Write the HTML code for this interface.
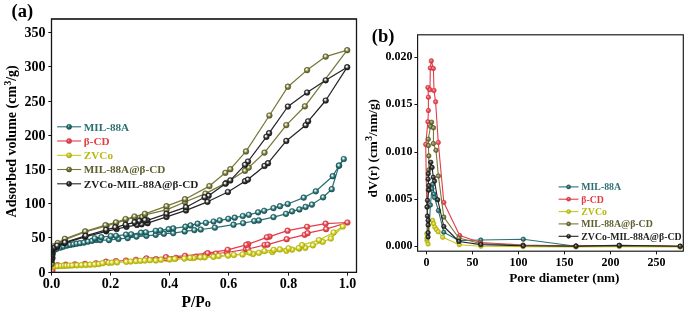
<!DOCTYPE html>
<html><head><meta charset="utf-8"><style>
html,body{margin:0;padding:0;background:#fff;}
body{width:685px;height:312px;overflow:hidden;}
svg{display:block;will-change:transform;font-family:"Liberation Serif",serif;font-weight:bold;}
</style></head><body>
<svg width="685" height="312" viewBox="0 0 685 312">
<rect width="685" height="312" fill="#fff"/>
<defs><radialGradient id="g_teal" cx="0.47" cy="0.45" r="0.58" fx="0.4" fy="0.36"><stop offset="0" stop-color="#ffffff"/><stop offset="0.16" stop-color="#d8eeee"/><stop offset="0.55" stop-color="#2f7d80"/><stop offset="1" stop-color="#174a4c"/></radialGradient>
<radialGradient id="h_teal" cx="0.5" cy="0.5" r="0.55" fx="0.38" fy="0.34"><stop offset="0" stop-color="#accbcc"/><stop offset="0.5" stop-color="#2f7d80"/><stop offset="1" stop-color="#174a4c"/></radialGradient>
<radialGradient id="l_teal" cx="0.5" cy="0.5" r="0.55" fx="0.36" fy="0.32"><stop offset="0" stop-color="#d8eeee"/><stop offset="0.3" stop-color="#2f7d80"/><stop offset="1" stop-color="#174a4c"/></radialGradient>
<radialGradient id="g_red" cx="0.47" cy="0.45" r="0.58" fx="0.4" fy="0.36"><stop offset="0" stop-color="#ffffff"/><stop offset="0.16" stop-color="#ffe0e0"/><stop offset="0.55" stop-color="#ea4a55"/><stop offset="1" stop-color="#cc3440"/></radialGradient>
<radialGradient id="h_red" cx="0.5" cy="0.5" r="0.55" fx="0.38" fy="0.34"><stop offset="0" stop-color="#f7b7bb"/><stop offset="0.5" stop-color="#ea4a55"/><stop offset="1" stop-color="#cc3440"/></radialGradient>
<radialGradient id="l_red" cx="0.5" cy="0.5" r="0.55" fx="0.36" fy="0.32"><stop offset="0" stop-color="#ffe0e0"/><stop offset="0.3" stop-color="#ea4a55"/><stop offset="1" stop-color="#cc3440"/></radialGradient>
<radialGradient id="g_yellow" cx="0.47" cy="0.45" r="0.58" fx="0.4" fy="0.36"><stop offset="0" stop-color="#ffffff"/><stop offset="0.16" stop-color="#fafae0"/><stop offset="0.55" stop-color="#d2d222"/><stop offset="1" stop-color="#a8a80e"/></radialGradient>
<radialGradient id="h_yellow" cx="0.5" cy="0.5" r="0.55" fx="0.38" fy="0.34"><stop offset="0" stop-color="#ededa7"/><stop offset="0.5" stop-color="#d2d222"/><stop offset="1" stop-color="#a8a80e"/></radialGradient>
<radialGradient id="l_yellow" cx="0.5" cy="0.5" r="0.55" fx="0.36" fy="0.32"><stop offset="0" stop-color="#fafae0"/><stop offset="0.3" stop-color="#d2d222"/><stop offset="1" stop-color="#a8a80e"/></radialGradient>
<radialGradient id="g_olive" cx="0.47" cy="0.45" r="0.58" fx="0.4" fy="0.36"><stop offset="0" stop-color="#ffffff"/><stop offset="0.16" stop-color="#f0f0dc"/><stop offset="0.55" stop-color="#808044"/><stop offset="1" stop-color="#50501e"/></radialGradient>
<radialGradient id="h_olive" cx="0.5" cy="0.5" r="0.55" fx="0.38" fy="0.34"><stop offset="0" stop-color="#ccccb4"/><stop offset="0.5" stop-color="#808044"/><stop offset="1" stop-color="#50501e"/></radialGradient>
<radialGradient id="l_olive" cx="0.5" cy="0.5" r="0.55" fx="0.36" fy="0.32"><stop offset="0" stop-color="#f0f0dc"/><stop offset="0.3" stop-color="#808044"/><stop offset="1" stop-color="#50501e"/></radialGradient>
<radialGradient id="g_black" cx="0.47" cy="0.45" r="0.58" fx="0.4" fy="0.36"><stop offset="0" stop-color="#ffffff"/><stop offset="0.16" stop-color="#f4f4f4"/><stop offset="0.55" stop-color="#383838"/><stop offset="1" stop-color="#151515"/></radialGradient>
<radialGradient id="h_black" cx="0.5" cy="0.5" r="0.55" fx="0.38" fy="0.34"><stop offset="0" stop-color="#afafaf"/><stop offset="0.5" stop-color="#383838"/><stop offset="1" stop-color="#151515"/></radialGradient>
<radialGradient id="l_black" cx="0.5" cy="0.5" r="0.55" fx="0.36" fy="0.32"><stop offset="0" stop-color="#f4f4f4"/><stop offset="0.3" stop-color="#383838"/><stop offset="1" stop-color="#151515"/></radialGradient><clipPath id="clipA"><rect x="51.5" y="19" width="304.7" height="253.2"/></clipPath></defs>
<rect x="51.5" y="19.0" width="305.0" height="253.4" fill="none" stroke="#151515" stroke-width="1.15"/>
<line x1="48.3" y1="272.50" x2="51.5" y2="272.50" stroke="#151515" stroke-width="1.05"/>
<text x="45.5" y="276.60" font-size="14" text-anchor="end">0</text>
<line x1="48.3" y1="237.50" x2="51.5" y2="237.50" stroke="#151515" stroke-width="1.05"/>
<text x="45.5" y="241.60" font-size="14" text-anchor="end">50</text>
<line x1="48.3" y1="203.50" x2="51.5" y2="203.50" stroke="#151515" stroke-width="1.05"/>
<text x="45.5" y="207.60" font-size="14" text-anchor="end">100</text>
<line x1="48.3" y1="169.50" x2="51.5" y2="169.50" stroke="#151515" stroke-width="1.05"/>
<text x="45.5" y="173.60" font-size="14" text-anchor="end">150</text>
<line x1="48.3" y1="135.50" x2="51.5" y2="135.50" stroke="#151515" stroke-width="1.05"/>
<text x="45.5" y="139.60" font-size="14" text-anchor="end">200</text>
<line x1="48.3" y1="101.50" x2="51.5" y2="101.50" stroke="#151515" stroke-width="1.05"/>
<text x="45.5" y="105.60" font-size="14" text-anchor="end">250</text>
<line x1="48.3" y1="66.50" x2="51.5" y2="66.50" stroke="#151515" stroke-width="1.05"/>
<text x="45.5" y="70.60" font-size="14" text-anchor="end">300</text>
<line x1="48.3" y1="32.50" x2="51.5" y2="32.50" stroke="#151515" stroke-width="1.05"/>
<text x="45.5" y="36.60" font-size="14" text-anchor="end">350</text>
<line x1="51.50" y1="272.4" x2="51.50" y2="275.6" stroke="#151515" stroke-width="1.05"/>
<text x="51.50" y="288.2" font-size="14" text-anchor="middle">0.0</text>
<line x1="110.50" y1="272.4" x2="110.50" y2="275.6" stroke="#151515" stroke-width="1.05"/>
<text x="110.50" y="288.2" font-size="14" text-anchor="middle">0.2</text>
<line x1="169.50" y1="272.4" x2="169.50" y2="275.6" stroke="#151515" stroke-width="1.05"/>
<text x="169.50" y="288.2" font-size="14" text-anchor="middle">0.4</text>
<line x1="228.50" y1="272.4" x2="228.50" y2="275.6" stroke="#151515" stroke-width="1.05"/>
<text x="228.50" y="288.2" font-size="14" text-anchor="middle">0.6</text>
<line x1="288.50" y1="272.4" x2="288.50" y2="275.6" stroke="#151515" stroke-width="1.05"/>
<text x="288.50" y="288.2" font-size="14" text-anchor="middle">0.8</text>
<line x1="347.50" y1="272.4" x2="347.50" y2="275.6" stroke="#151515" stroke-width="1.05"/>
<text x="347.50" y="288.2" font-size="14" text-anchor="middle">1.0</text>
<text transform="translate(181.6,306.9) scale(1,1.09)" font-size="15.5">P/P<tspan font-size="12.3" transform="">o</tspan></text>
<text transform="translate(16,141.3) rotate(-90)" font-size="14" text-anchor="middle">Adsorbed volume (cm<tspan font-size="9.6" dy="-5" dx="0.4">3</tspan><tspan dy="5">/g)</tspan></text>
<text x="11.5" y="17.3" font-size="18.5">(a)</text>
<g clip-path="url(#clipA)">
<polyline points="52.3,264.0 52.5,258.0 52.7,254.0 53.0,251.5 54.5,249.8 56.7,248.7 60.5,247.6 63.5,246.6 67.0,245.6 70.2,244.9 73.4,244.3 76.6,243.7 80.0,243.2 84.0,242.6 88.0,241.6 92.0,240.8 96.2,239.9 100.3,240.1 109.0,240.1 118.4,238.9 127.7,238.1 136.5,236.6 146.4,235.8 155.7,234.8 163.9,233.7 173.2,233.1 184.7,231.4 194.4,230.1 200.8,229.5 214.9,227.6 233.5,224.7 243.1,223.1 254.2,221.0 258.8,220.4 273.5,217.1 286.0,213.8 292.1,211.3 299.4,209.4 305.6,206.9 311.9,204.6 323.1,197.3 331.7,189.2 339.0,165.6 343.8,159.0" fill="none" stroke="#2b7174" stroke-width="1.25" stroke-linejoin="round"/>
<polyline points="343.8,159.0 339.0,165.6 332.7,176.2 315.8,191.3 303.7,197.6 287.7,204.0 280.0,206.2 273.5,208.1 264.2,210.8 258.1,212.3 248.8,214.8 242.8,216.0 234.7,217.7 228.3,218.8 219.7,220.3 213.6,221.5 205.9,222.8 197.6,223.7 190.5,225.4 185.4,226.7 173.2,228.4 168.6,229.2 160.4,230.4 155.7,230.8 145.8,232.3 141.1,232.7 131.2,234.3 126.0,234.6 116.0,235.8 110.8,236.0 101.4,237.2 94.7,238.3" fill="none" stroke="#2b7174" stroke-width="1.25" stroke-linejoin="round"/>
<circle cx="52.3" cy="264.0" r="2.85" fill="url(#g_teal)" stroke="#174a4c" stroke-width="0.5"/>
<circle cx="52.5" cy="258.0" r="2.85" fill="url(#g_teal)" stroke="#174a4c" stroke-width="0.5"/>
<circle cx="52.7" cy="254.0" r="2.85" fill="url(#g_teal)" stroke="#174a4c" stroke-width="0.5"/>
<circle cx="53.0" cy="251.5" r="2.85" fill="url(#g_teal)" stroke="#174a4c" stroke-width="0.5"/>
<circle cx="54.5" cy="249.8" r="2.85" fill="url(#g_teal)" stroke="#174a4c" stroke-width="0.5"/>
<circle cx="56.7" cy="248.7" r="2.85" fill="url(#g_teal)" stroke="#174a4c" stroke-width="0.5"/>
<circle cx="60.5" cy="247.6" r="2.85" fill="url(#g_teal)" stroke="#174a4c" stroke-width="0.5"/>
<circle cx="63.5" cy="246.6" r="2.85" fill="url(#g_teal)" stroke="#174a4c" stroke-width="0.5"/>
<circle cx="67.0" cy="245.6" r="2.85" fill="url(#g_teal)" stroke="#174a4c" stroke-width="0.5"/>
<circle cx="70.2" cy="244.9" r="2.85" fill="url(#g_teal)" stroke="#174a4c" stroke-width="0.5"/>
<circle cx="73.4" cy="244.3" r="2.85" fill="url(#g_teal)" stroke="#174a4c" stroke-width="0.5"/>
<circle cx="76.6" cy="243.7" r="2.85" fill="url(#g_teal)" stroke="#174a4c" stroke-width="0.5"/>
<circle cx="80.0" cy="243.2" r="2.85" fill="url(#g_teal)" stroke="#174a4c" stroke-width="0.5"/>
<circle cx="84.0" cy="242.6" r="2.85" fill="url(#g_teal)" stroke="#174a4c" stroke-width="0.5"/>
<circle cx="88.0" cy="241.6" r="2.85" fill="url(#g_teal)" stroke="#174a4c" stroke-width="0.5"/>
<circle cx="92.0" cy="240.8" r="2.85" fill="url(#g_teal)" stroke="#174a4c" stroke-width="0.5"/>
<circle cx="96.2" cy="239.9" r="2.85" fill="url(#g_teal)" stroke="#174a4c" stroke-width="0.5"/>
<circle cx="100.3" cy="240.1" r="2.85" fill="url(#g_teal)" stroke="#174a4c" stroke-width="0.5"/>
<circle cx="109.0" cy="240.1" r="2.85" fill="url(#g_teal)" stroke="#174a4c" stroke-width="0.5"/>
<circle cx="118.4" cy="238.9" r="2.85" fill="url(#g_teal)" stroke="#174a4c" stroke-width="0.5"/>
<circle cx="127.7" cy="238.1" r="2.85" fill="url(#g_teal)" stroke="#174a4c" stroke-width="0.5"/>
<circle cx="136.5" cy="236.6" r="2.85" fill="url(#g_teal)" stroke="#174a4c" stroke-width="0.5"/>
<circle cx="146.4" cy="235.8" r="2.85" fill="url(#g_teal)" stroke="#174a4c" stroke-width="0.5"/>
<circle cx="155.7" cy="234.8" r="2.85" fill="url(#g_teal)" stroke="#174a4c" stroke-width="0.5"/>
<circle cx="163.9" cy="233.7" r="2.85" fill="url(#g_teal)" stroke="#174a4c" stroke-width="0.5"/>
<circle cx="173.2" cy="233.1" r="2.85" fill="url(#g_teal)" stroke="#174a4c" stroke-width="0.5"/>
<circle cx="184.7" cy="231.4" r="2.85" fill="url(#g_teal)" stroke="#174a4c" stroke-width="0.5"/>
<circle cx="194.4" cy="230.1" r="2.85" fill="url(#g_teal)" stroke="#174a4c" stroke-width="0.5"/>
<circle cx="200.8" cy="229.5" r="2.85" fill="url(#g_teal)" stroke="#174a4c" stroke-width="0.5"/>
<circle cx="214.9" cy="227.6" r="2.85" fill="url(#g_teal)" stroke="#174a4c" stroke-width="0.5"/>
<circle cx="233.5" cy="224.7" r="2.85" fill="url(#g_teal)" stroke="#174a4c" stroke-width="0.5"/>
<circle cx="243.1" cy="223.1" r="2.85" fill="url(#g_teal)" stroke="#174a4c" stroke-width="0.5"/>
<circle cx="254.2" cy="221.0" r="2.85" fill="url(#g_teal)" stroke="#174a4c" stroke-width="0.5"/>
<circle cx="258.8" cy="220.4" r="2.85" fill="url(#g_teal)" stroke="#174a4c" stroke-width="0.5"/>
<circle cx="273.5" cy="217.1" r="2.85" fill="url(#g_teal)" stroke="#174a4c" stroke-width="0.5"/>
<circle cx="286.0" cy="213.8" r="2.85" fill="url(#g_teal)" stroke="#174a4c" stroke-width="0.5"/>
<circle cx="292.1" cy="211.3" r="2.85" fill="url(#g_teal)" stroke="#174a4c" stroke-width="0.5"/>
<circle cx="299.4" cy="209.4" r="2.85" fill="url(#g_teal)" stroke="#174a4c" stroke-width="0.5"/>
<circle cx="305.6" cy="206.9" r="2.85" fill="url(#g_teal)" stroke="#174a4c" stroke-width="0.5"/>
<circle cx="311.9" cy="204.6" r="2.85" fill="url(#g_teal)" stroke="#174a4c" stroke-width="0.5"/>
<circle cx="323.1" cy="197.3" r="2.85" fill="url(#g_teal)" stroke="#174a4c" stroke-width="0.5"/>
<circle cx="331.7" cy="189.2" r="2.85" fill="url(#g_teal)" stroke="#174a4c" stroke-width="0.5"/>
<circle cx="339.0" cy="165.6" r="2.85" fill="url(#g_teal)" stroke="#174a4c" stroke-width="0.5"/>
<circle cx="343.8" cy="159.0" r="2.85" fill="url(#g_teal)" stroke="#174a4c" stroke-width="0.5"/>
<circle cx="339.0" cy="165.6" r="2.85" fill="url(#g_teal)" stroke="#174a4c" stroke-width="0.5"/>
<circle cx="332.7" cy="176.2" r="2.85" fill="url(#g_teal)" stroke="#174a4c" stroke-width="0.5"/>
<circle cx="315.8" cy="191.3" r="2.85" fill="url(#g_teal)" stroke="#174a4c" stroke-width="0.5"/>
<circle cx="303.7" cy="197.6" r="2.85" fill="url(#g_teal)" stroke="#174a4c" stroke-width="0.5"/>
<circle cx="287.7" cy="204.0" r="2.85" fill="url(#g_teal)" stroke="#174a4c" stroke-width="0.5"/>
<circle cx="280.0" cy="206.2" r="2.85" fill="url(#g_teal)" stroke="#174a4c" stroke-width="0.5"/>
<circle cx="273.5" cy="208.1" r="2.85" fill="url(#g_teal)" stroke="#174a4c" stroke-width="0.5"/>
<circle cx="264.2" cy="210.8" r="2.85" fill="url(#g_teal)" stroke="#174a4c" stroke-width="0.5"/>
<circle cx="258.1" cy="212.3" r="2.85" fill="url(#g_teal)" stroke="#174a4c" stroke-width="0.5"/>
<circle cx="248.8" cy="214.8" r="2.85" fill="url(#g_teal)" stroke="#174a4c" stroke-width="0.5"/>
<circle cx="242.8" cy="216.0" r="2.85" fill="url(#g_teal)" stroke="#174a4c" stroke-width="0.5"/>
<circle cx="234.7" cy="217.7" r="2.85" fill="url(#g_teal)" stroke="#174a4c" stroke-width="0.5"/>
<circle cx="228.3" cy="218.8" r="2.85" fill="url(#g_teal)" stroke="#174a4c" stroke-width="0.5"/>
<circle cx="219.7" cy="220.3" r="2.85" fill="url(#g_teal)" stroke="#174a4c" stroke-width="0.5"/>
<circle cx="213.6" cy="221.5" r="2.85" fill="url(#g_teal)" stroke="#174a4c" stroke-width="0.5"/>
<circle cx="205.9" cy="222.8" r="2.85" fill="url(#g_teal)" stroke="#174a4c" stroke-width="0.5"/>
<circle cx="197.6" cy="223.7" r="2.85" fill="url(#g_teal)" stroke="#174a4c" stroke-width="0.5"/>
<circle cx="190.5" cy="225.4" r="2.85" fill="url(#g_teal)" stroke="#174a4c" stroke-width="0.5"/>
<circle cx="185.4" cy="226.7" r="2.85" fill="url(#g_teal)" stroke="#174a4c" stroke-width="0.5"/>
<circle cx="173.2" cy="228.4" r="2.85" fill="url(#g_teal)" stroke="#174a4c" stroke-width="0.5"/>
<circle cx="168.6" cy="229.2" r="2.85" fill="url(#g_teal)" stroke="#174a4c" stroke-width="0.5"/>
<circle cx="160.4" cy="230.4" r="2.85" fill="url(#g_teal)" stroke="#174a4c" stroke-width="0.5"/>
<circle cx="155.7" cy="230.8" r="2.85" fill="url(#g_teal)" stroke="#174a4c" stroke-width="0.5"/>
<circle cx="145.8" cy="232.3" r="2.85" fill="url(#g_teal)" stroke="#174a4c" stroke-width="0.5"/>
<circle cx="141.1" cy="232.7" r="2.85" fill="url(#g_teal)" stroke="#174a4c" stroke-width="0.5"/>
<circle cx="131.2" cy="234.3" r="2.85" fill="url(#g_teal)" stroke="#174a4c" stroke-width="0.5"/>
<circle cx="126.0" cy="234.6" r="2.85" fill="url(#g_teal)" stroke="#174a4c" stroke-width="0.5"/>
<circle cx="116.0" cy="235.8" r="2.85" fill="url(#g_teal)" stroke="#174a4c" stroke-width="0.5"/>
<circle cx="110.8" cy="236.0" r="2.85" fill="url(#g_teal)" stroke="#174a4c" stroke-width="0.5"/>
<circle cx="101.4" cy="237.2" r="2.85" fill="url(#g_teal)" stroke="#174a4c" stroke-width="0.5"/>
<circle cx="94.7" cy="238.3" r="2.85" fill="url(#g_teal)" stroke="#174a4c" stroke-width="0.5"/>
<polyline points="52.4,270.6 53.2,265.5 57.6,265.2 65.7,264.7 75.0,264.4 85.0,263.9 96.0,263.3 106.0,261.7 116.0,261.1 126.0,260.5 136.0,259.8 146.0,259.2 156.0,259.1 166.0,258.4 176.0,257.8 186.0,257.2 196.0,256.6 206.1,254.3 216.0,253.5 226.9,252.5 245.9,249.4 248.0,249.0 264.5,245.0 267.6,244.6 286.7,239.2 304.7,234.8 307.6,233.2 326.1,229.2 347.4,222.5" fill="none" stroke="#e53c48" stroke-width="1.25" stroke-linejoin="round"/>
<polyline points="347.4,222.5 325.6,223.6 307.1,226.8 287.6,230.7 269.5,236.6 266.8,237.3 248.2,244.2 246.2,244.8 227.7,249.8 207.7,253.2 185.0,255.8 166.0,257.1 146.4,258.4" fill="none" stroke="#e53c48" stroke-width="1.25" stroke-linejoin="round"/>
<circle cx="52.4" cy="270.6" r="2.85" fill="url(#g_red)" stroke="#cc3440" stroke-width="0.5"/>
<circle cx="53.2" cy="265.5" r="2.85" fill="url(#g_red)" stroke="#cc3440" stroke-width="0.5"/>
<circle cx="57.6" cy="265.2" r="2.85" fill="url(#g_red)" stroke="#cc3440" stroke-width="0.5"/>
<circle cx="65.7" cy="264.7" r="2.85" fill="url(#g_red)" stroke="#cc3440" stroke-width="0.5"/>
<circle cx="75.0" cy="264.4" r="2.85" fill="url(#g_red)" stroke="#cc3440" stroke-width="0.5"/>
<circle cx="85.0" cy="263.9" r="2.85" fill="url(#g_red)" stroke="#cc3440" stroke-width="0.5"/>
<circle cx="96.0" cy="263.3" r="2.85" fill="url(#g_red)" stroke="#cc3440" stroke-width="0.5"/>
<circle cx="106.0" cy="261.7" r="2.85" fill="url(#g_red)" stroke="#cc3440" stroke-width="0.5"/>
<circle cx="116.0" cy="261.1" r="2.85" fill="url(#g_red)" stroke="#cc3440" stroke-width="0.5"/>
<circle cx="126.0" cy="260.5" r="2.85" fill="url(#g_red)" stroke="#cc3440" stroke-width="0.5"/>
<circle cx="136.0" cy="259.8" r="2.85" fill="url(#g_red)" stroke="#cc3440" stroke-width="0.5"/>
<circle cx="146.0" cy="259.2" r="2.85" fill="url(#g_red)" stroke="#cc3440" stroke-width="0.5"/>
<circle cx="156.0" cy="259.1" r="2.85" fill="url(#g_red)" stroke="#cc3440" stroke-width="0.5"/>
<circle cx="166.0" cy="258.4" r="2.85" fill="url(#g_red)" stroke="#cc3440" stroke-width="0.5"/>
<circle cx="176.0" cy="257.8" r="2.85" fill="url(#g_red)" stroke="#cc3440" stroke-width="0.5"/>
<circle cx="186.0" cy="257.2" r="2.85" fill="url(#g_red)" stroke="#cc3440" stroke-width="0.5"/>
<circle cx="196.0" cy="256.6" r="2.85" fill="url(#g_red)" stroke="#cc3440" stroke-width="0.5"/>
<circle cx="206.1" cy="254.3" r="2.85" fill="url(#g_red)" stroke="#cc3440" stroke-width="0.5"/>
<circle cx="216.0" cy="253.5" r="2.85" fill="url(#g_red)" stroke="#cc3440" stroke-width="0.5"/>
<circle cx="226.9" cy="252.5" r="2.85" fill="url(#g_red)" stroke="#cc3440" stroke-width="0.5"/>
<circle cx="245.9" cy="249.4" r="2.85" fill="url(#g_red)" stroke="#cc3440" stroke-width="0.5"/>
<circle cx="248.0" cy="249.0" r="2.85" fill="url(#g_red)" stroke="#cc3440" stroke-width="0.5"/>
<circle cx="264.5" cy="245.0" r="2.85" fill="url(#g_red)" stroke="#cc3440" stroke-width="0.5"/>
<circle cx="267.6" cy="244.6" r="2.85" fill="url(#g_red)" stroke="#cc3440" stroke-width="0.5"/>
<circle cx="286.7" cy="239.2" r="2.85" fill="url(#g_red)" stroke="#cc3440" stroke-width="0.5"/>
<circle cx="304.7" cy="234.8" r="2.85" fill="url(#g_red)" stroke="#cc3440" stroke-width="0.5"/>
<circle cx="307.6" cy="233.2" r="2.85" fill="url(#g_red)" stroke="#cc3440" stroke-width="0.5"/>
<circle cx="326.1" cy="229.2" r="2.85" fill="url(#g_red)" stroke="#cc3440" stroke-width="0.5"/>
<circle cx="347.4" cy="222.5" r="2.85" fill="url(#g_red)" stroke="#cc3440" stroke-width="0.5"/>
<circle cx="325.6" cy="223.6" r="2.85" fill="url(#g_red)" stroke="#cc3440" stroke-width="0.5"/>
<circle cx="307.1" cy="226.8" r="2.85" fill="url(#g_red)" stroke="#cc3440" stroke-width="0.5"/>
<circle cx="287.6" cy="230.7" r="2.85" fill="url(#g_red)" stroke="#cc3440" stroke-width="0.5"/>
<circle cx="269.5" cy="236.6" r="2.85" fill="url(#g_red)" stroke="#cc3440" stroke-width="0.5"/>
<circle cx="266.8" cy="237.3" r="2.85" fill="url(#g_red)" stroke="#cc3440" stroke-width="0.5"/>
<circle cx="248.2" cy="244.2" r="2.85" fill="url(#g_red)" stroke="#cc3440" stroke-width="0.5"/>
<circle cx="246.2" cy="244.8" r="2.85" fill="url(#g_red)" stroke="#cc3440" stroke-width="0.5"/>
<circle cx="227.7" cy="249.8" r="2.85" fill="url(#g_red)" stroke="#cc3440" stroke-width="0.5"/>
<circle cx="207.7" cy="253.2" r="2.85" fill="url(#g_red)" stroke="#cc3440" stroke-width="0.5"/>
<circle cx="185.0" cy="255.8" r="2.85" fill="url(#g_red)" stroke="#cc3440" stroke-width="0.5"/>
<circle cx="166.0" cy="257.1" r="2.85" fill="url(#g_red)" stroke="#cc3440" stroke-width="0.5"/>
<circle cx="146.4" cy="258.4" r="2.85" fill="url(#g_red)" stroke="#cc3440" stroke-width="0.5"/>
<polyline points="52.3,266.6 54.6,266.4 57.6,266.2 61.0,266.0 63.9,265.8 66.4,265.7 69.3,265.6 72.3,265.5 77.0,265.3 81.4,265.1 85.8,264.9 90.1,264.7 94.5,264.4 98.9,264.1 102.6,263.2 108.7,262.8 111.9,262.6 117.1,262.3 126.3,261.8 130.7,261.5 136.0,261.1 140.4,260.8 144.8,260.5 155.8,260.4 169.7,259.4 184.3,258.6 193.8,258.0 204.7,257.3 213.5,256.8 228.1,255.6 242.6,254.4 253.1,254.0 258.8,252.9 272.4,252.0 286.4,250.7 292.1,249.6 299.3,248.6 305.3,247.8 312.9,245.3 322.7,241.8 330.8,238.5 342.8,226.5" fill="none" stroke="#c8c81c" stroke-width="1.25" stroke-linejoin="round"/>
<polyline points="342.8,226.5 333.6,232.5 318.9,240.1 302.0,245.2 298.7,248.1 288.6,248.3 279.8,249.4 273.7,249.9 264.5,251.1 249.6,252.6 233.9,255.0 218.6,256.0 200.4,257.3 190.1,257.9 174.8,258.9 161.0,259.7 150.0,260.2" fill="none" stroke="#c8c81c" stroke-width="1.25" stroke-linejoin="round"/>
<circle cx="52.3" cy="266.6" r="2.85" fill="url(#g_yellow)" stroke="#a8a80e" stroke-width="0.5"/>
<circle cx="54.6" cy="266.4" r="2.85" fill="url(#g_yellow)" stroke="#a8a80e" stroke-width="0.5"/>
<circle cx="57.6" cy="266.2" r="2.85" fill="url(#g_yellow)" stroke="#a8a80e" stroke-width="0.5"/>
<circle cx="61.0" cy="266.0" r="2.85" fill="url(#g_yellow)" stroke="#a8a80e" stroke-width="0.5"/>
<circle cx="63.9" cy="265.8" r="2.85" fill="url(#g_yellow)" stroke="#a8a80e" stroke-width="0.5"/>
<circle cx="66.4" cy="265.7" r="2.85" fill="url(#g_yellow)" stroke="#a8a80e" stroke-width="0.5"/>
<circle cx="69.3" cy="265.6" r="2.85" fill="url(#g_yellow)" stroke="#a8a80e" stroke-width="0.5"/>
<circle cx="72.3" cy="265.5" r="2.85" fill="url(#g_yellow)" stroke="#a8a80e" stroke-width="0.5"/>
<circle cx="77.0" cy="265.3" r="2.85" fill="url(#g_yellow)" stroke="#a8a80e" stroke-width="0.5"/>
<circle cx="81.4" cy="265.1" r="2.85" fill="url(#g_yellow)" stroke="#a8a80e" stroke-width="0.5"/>
<circle cx="85.8" cy="264.9" r="2.85" fill="url(#g_yellow)" stroke="#a8a80e" stroke-width="0.5"/>
<circle cx="90.1" cy="264.7" r="2.85" fill="url(#g_yellow)" stroke="#a8a80e" stroke-width="0.5"/>
<circle cx="94.5" cy="264.4" r="2.85" fill="url(#g_yellow)" stroke="#a8a80e" stroke-width="0.5"/>
<circle cx="98.9" cy="264.1" r="2.85" fill="url(#g_yellow)" stroke="#a8a80e" stroke-width="0.5"/>
<circle cx="102.6" cy="263.2" r="2.85" fill="url(#g_yellow)" stroke="#a8a80e" stroke-width="0.5"/>
<circle cx="108.7" cy="262.8" r="2.85" fill="url(#g_yellow)" stroke="#a8a80e" stroke-width="0.5"/>
<circle cx="111.9" cy="262.6" r="2.85" fill="url(#g_yellow)" stroke="#a8a80e" stroke-width="0.5"/>
<circle cx="117.1" cy="262.3" r="2.85" fill="url(#g_yellow)" stroke="#a8a80e" stroke-width="0.5"/>
<circle cx="126.3" cy="261.8" r="2.85" fill="url(#g_yellow)" stroke="#a8a80e" stroke-width="0.5"/>
<circle cx="130.7" cy="261.5" r="2.85" fill="url(#g_yellow)" stroke="#a8a80e" stroke-width="0.5"/>
<circle cx="136.0" cy="261.1" r="2.85" fill="url(#g_yellow)" stroke="#a8a80e" stroke-width="0.5"/>
<circle cx="140.4" cy="260.8" r="2.85" fill="url(#g_yellow)" stroke="#a8a80e" stroke-width="0.5"/>
<circle cx="144.8" cy="260.5" r="2.85" fill="url(#g_yellow)" stroke="#a8a80e" stroke-width="0.5"/>
<circle cx="155.8" cy="260.4" r="2.85" fill="url(#g_yellow)" stroke="#a8a80e" stroke-width="0.5"/>
<circle cx="169.7" cy="259.4" r="2.85" fill="url(#g_yellow)" stroke="#a8a80e" stroke-width="0.5"/>
<circle cx="184.3" cy="258.6" r="2.85" fill="url(#g_yellow)" stroke="#a8a80e" stroke-width="0.5"/>
<circle cx="193.8" cy="258.0" r="2.85" fill="url(#g_yellow)" stroke="#a8a80e" stroke-width="0.5"/>
<circle cx="204.7" cy="257.3" r="2.85" fill="url(#g_yellow)" stroke="#a8a80e" stroke-width="0.5"/>
<circle cx="213.5" cy="256.8" r="2.85" fill="url(#g_yellow)" stroke="#a8a80e" stroke-width="0.5"/>
<circle cx="228.1" cy="255.6" r="2.85" fill="url(#g_yellow)" stroke="#a8a80e" stroke-width="0.5"/>
<circle cx="242.6" cy="254.4" r="2.85" fill="url(#g_yellow)" stroke="#a8a80e" stroke-width="0.5"/>
<circle cx="253.1" cy="254.0" r="2.85" fill="url(#g_yellow)" stroke="#a8a80e" stroke-width="0.5"/>
<circle cx="258.8" cy="252.9" r="2.85" fill="url(#g_yellow)" stroke="#a8a80e" stroke-width="0.5"/>
<circle cx="272.4" cy="252.0" r="2.85" fill="url(#g_yellow)" stroke="#a8a80e" stroke-width="0.5"/>
<circle cx="286.4" cy="250.7" r="2.85" fill="url(#g_yellow)" stroke="#a8a80e" stroke-width="0.5"/>
<circle cx="292.1" cy="249.6" r="2.85" fill="url(#g_yellow)" stroke="#a8a80e" stroke-width="0.5"/>
<circle cx="299.3" cy="248.6" r="2.85" fill="url(#g_yellow)" stroke="#a8a80e" stroke-width="0.5"/>
<circle cx="305.3" cy="247.8" r="2.85" fill="url(#g_yellow)" stroke="#a8a80e" stroke-width="0.5"/>
<circle cx="312.9" cy="245.3" r="2.85" fill="url(#g_yellow)" stroke="#a8a80e" stroke-width="0.5"/>
<circle cx="322.7" cy="241.8" r="2.85" fill="url(#g_yellow)" stroke="#a8a80e" stroke-width="0.5"/>
<circle cx="330.8" cy="238.5" r="2.85" fill="url(#g_yellow)" stroke="#a8a80e" stroke-width="0.5"/>
<circle cx="342.8" cy="226.5" r="2.85" fill="url(#g_yellow)" stroke="#a8a80e" stroke-width="0.5"/>
<circle cx="333.6" cy="232.5" r="2.85" fill="url(#g_yellow)" stroke="#a8a80e" stroke-width="0.5"/>
<circle cx="318.9" cy="240.1" r="2.85" fill="url(#g_yellow)" stroke="#a8a80e" stroke-width="0.5"/>
<circle cx="302.0" cy="245.2" r="2.85" fill="url(#g_yellow)" stroke="#a8a80e" stroke-width="0.5"/>
<circle cx="298.7" cy="248.1" r="2.85" fill="url(#g_yellow)" stroke="#a8a80e" stroke-width="0.5"/>
<circle cx="288.6" cy="248.3" r="2.85" fill="url(#g_yellow)" stroke="#a8a80e" stroke-width="0.5"/>
<circle cx="279.8" cy="249.4" r="2.85" fill="url(#g_yellow)" stroke="#a8a80e" stroke-width="0.5"/>
<circle cx="273.7" cy="249.9" r="2.85" fill="url(#g_yellow)" stroke="#a8a80e" stroke-width="0.5"/>
<circle cx="264.5" cy="251.1" r="2.85" fill="url(#g_yellow)" stroke="#a8a80e" stroke-width="0.5"/>
<circle cx="249.6" cy="252.6" r="2.85" fill="url(#g_yellow)" stroke="#a8a80e" stroke-width="0.5"/>
<circle cx="233.9" cy="255.0" r="2.85" fill="url(#g_yellow)" stroke="#a8a80e" stroke-width="0.5"/>
<circle cx="218.6" cy="256.0" r="2.85" fill="url(#g_yellow)" stroke="#a8a80e" stroke-width="0.5"/>
<circle cx="200.4" cy="257.3" r="2.85" fill="url(#g_yellow)" stroke="#a8a80e" stroke-width="0.5"/>
<circle cx="190.1" cy="257.9" r="2.85" fill="url(#g_yellow)" stroke="#a8a80e" stroke-width="0.5"/>
<circle cx="174.8" cy="258.9" r="2.85" fill="url(#g_yellow)" stroke="#a8a80e" stroke-width="0.5"/>
<circle cx="161.0" cy="259.7" r="2.85" fill="url(#g_yellow)" stroke="#a8a80e" stroke-width="0.5"/>
<circle cx="150.0" cy="260.2" r="2.85" fill="url(#g_yellow)" stroke="#a8a80e" stroke-width="0.5"/>
<polyline points="51.8,264.0 52.0,258.0 52.5,252.0 53.6,246.3 57.7,243.8 64.9,239.6 85.2,231.8 106.5,226.0 116.0,223.2 125.6,219.8 134.5,217.5 142.3,216.9 144.9,214.8 166.5,209.8 185.0,202.0 205.4,193.6 226.2,182.9 245.0,170.8 248.7,167.6 264.5,152.6 286.3,125.1 304.9,106.3 347.2,50.2" fill="none" stroke="#78783a" stroke-width="1.25" stroke-linejoin="round"/>
<polyline points="347.2,50.2 325.7,56.6 307.1,70.1 287.9,86.7 269.4,115.5 246.0,151.4 230.3,169.2 225.4,172.8 209.4,186.1 185.0,199.2 166.5,206.2 144.9,213.8 134.5,216.5 125.6,219.0 116.0,222.4 105.5,225.2 85.2,231.4 64.9,238.8 57.7,243.0" fill="none" stroke="#78783a" stroke-width="1.25" stroke-linejoin="round"/>
<circle cx="51.8" cy="264.0" r="2.85" fill="url(#g_olive)" stroke="#50501e" stroke-width="0.5"/>
<circle cx="52.0" cy="258.0" r="2.85" fill="url(#g_olive)" stroke="#50501e" stroke-width="0.5"/>
<circle cx="52.5" cy="252.0" r="2.85" fill="url(#g_olive)" stroke="#50501e" stroke-width="0.5"/>
<circle cx="53.6" cy="246.3" r="2.85" fill="url(#g_olive)" stroke="#50501e" stroke-width="0.5"/>
<circle cx="57.7" cy="243.8" r="2.85" fill="url(#g_olive)" stroke="#50501e" stroke-width="0.5"/>
<circle cx="64.9" cy="239.6" r="2.85" fill="url(#g_olive)" stroke="#50501e" stroke-width="0.5"/>
<circle cx="85.2" cy="231.8" r="2.85" fill="url(#g_olive)" stroke="#50501e" stroke-width="0.5"/>
<circle cx="106.5" cy="226.0" r="2.85" fill="url(#g_olive)" stroke="#50501e" stroke-width="0.5"/>
<circle cx="116.0" cy="223.2" r="2.85" fill="url(#g_olive)" stroke="#50501e" stroke-width="0.5"/>
<circle cx="125.6" cy="219.8" r="2.85" fill="url(#g_olive)" stroke="#50501e" stroke-width="0.5"/>
<circle cx="134.5" cy="217.5" r="2.85" fill="url(#g_olive)" stroke="#50501e" stroke-width="0.5"/>
<circle cx="142.3" cy="216.9" r="2.85" fill="url(#g_olive)" stroke="#50501e" stroke-width="0.5"/>
<circle cx="144.9" cy="214.8" r="2.85" fill="url(#g_olive)" stroke="#50501e" stroke-width="0.5"/>
<circle cx="166.5" cy="209.8" r="2.85" fill="url(#g_olive)" stroke="#50501e" stroke-width="0.5"/>
<circle cx="185.0" cy="202.0" r="2.85" fill="url(#g_olive)" stroke="#50501e" stroke-width="0.5"/>
<circle cx="205.4" cy="193.6" r="2.85" fill="url(#g_olive)" stroke="#50501e" stroke-width="0.5"/>
<circle cx="226.2" cy="182.9" r="2.85" fill="url(#g_olive)" stroke="#50501e" stroke-width="0.5"/>
<circle cx="245.0" cy="170.8" r="2.85" fill="url(#g_olive)" stroke="#50501e" stroke-width="0.5"/>
<circle cx="248.7" cy="167.6" r="2.85" fill="url(#g_olive)" stroke="#50501e" stroke-width="0.5"/>
<circle cx="264.5" cy="152.6" r="2.85" fill="url(#g_olive)" stroke="#50501e" stroke-width="0.5"/>
<circle cx="286.3" cy="125.1" r="2.85" fill="url(#g_olive)" stroke="#50501e" stroke-width="0.5"/>
<circle cx="304.9" cy="106.3" r="2.85" fill="url(#g_olive)" stroke="#50501e" stroke-width="0.5"/>
<circle cx="347.2" cy="50.2" r="2.85" fill="url(#g_olive)" stroke="#50501e" stroke-width="0.5"/>
<circle cx="325.7" cy="56.6" r="2.85" fill="url(#g_olive)" stroke="#50501e" stroke-width="0.5"/>
<circle cx="307.1" cy="70.1" r="2.85" fill="url(#g_olive)" stroke="#50501e" stroke-width="0.5"/>
<circle cx="287.9" cy="86.7" r="2.85" fill="url(#g_olive)" stroke="#50501e" stroke-width="0.5"/>
<circle cx="269.4" cy="115.5" r="2.85" fill="url(#g_olive)" stroke="#50501e" stroke-width="0.5"/>
<circle cx="246.0" cy="151.4" r="2.85" fill="url(#g_olive)" stroke="#50501e" stroke-width="0.5"/>
<circle cx="230.3" cy="169.2" r="2.85" fill="url(#g_olive)" stroke="#50501e" stroke-width="0.5"/>
<circle cx="225.4" cy="172.8" r="2.85" fill="url(#g_olive)" stroke="#50501e" stroke-width="0.5"/>
<circle cx="209.4" cy="186.1" r="2.85" fill="url(#g_olive)" stroke="#50501e" stroke-width="0.5"/>
<circle cx="185.0" cy="199.2" r="2.85" fill="url(#g_olive)" stroke="#50501e" stroke-width="0.5"/>
<circle cx="166.5" cy="206.2" r="2.85" fill="url(#g_olive)" stroke="#50501e" stroke-width="0.5"/>
<circle cx="144.9" cy="213.8" r="2.85" fill="url(#g_olive)" stroke="#50501e" stroke-width="0.5"/>
<circle cx="134.5" cy="216.5" r="2.85" fill="url(#g_olive)" stroke="#50501e" stroke-width="0.5"/>
<circle cx="125.6" cy="219.0" r="2.85" fill="url(#g_olive)" stroke="#50501e" stroke-width="0.5"/>
<circle cx="116.0" cy="222.4" r="2.85" fill="url(#g_olive)" stroke="#50501e" stroke-width="0.5"/>
<circle cx="105.5" cy="225.2" r="2.85" fill="url(#g_olive)" stroke="#50501e" stroke-width="0.5"/>
<circle cx="85.2" cy="231.4" r="2.85" fill="url(#g_olive)" stroke="#50501e" stroke-width="0.5"/>
<circle cx="64.9" cy="238.8" r="2.85" fill="url(#g_olive)" stroke="#50501e" stroke-width="0.5"/>
<circle cx="57.7" cy="243.0" r="2.85" fill="url(#g_olive)" stroke="#50501e" stroke-width="0.5"/>
<polyline points="51.7,260.0 51.8,257.5 51.8,255.0 51.9,252.5 52.1,250.2 52.8,248.4 55.0,247.4 57.3,246.5 64.4,243.2 85.0,236.8 106.2,231.3 116.6,229.0 126.5,226.8 137.0,224.9 141.7,224.3 147.6,223.2 166.5,216.9 186.0,210.4 207.5,201.8 227.9,192.0 245.0,181.2 247.9,179.6 264.5,165.9 268.0,163.2 286.3,140.9 305.6,125.2 308.1,121.3 325.7,100.5 347.2,67.2" fill="none" stroke="#262626" stroke-width="1.25" stroke-linejoin="round"/>
<polyline points="347.2,67.2 325.7,80.3 307.1,92.5 287.9,106.5 269.1,133.2 266.4,136.8 248.0,161.5 245.0,164.8 230.3,180.4 225.4,183.7 208.6,195.7 204.6,197.3 186.0,207.2 166.5,213.8 147.3,220.3 144.9,220.1 139.3,220.9 134.5,222.3 125.6,224.7 115.2,227.3 106.1,229.8 85.6,235.8 64.9,242.4 57.2,245.6" fill="none" stroke="#262626" stroke-width="1.25" stroke-linejoin="round"/>
<circle cx="51.7" cy="260.0" r="2.85" fill="url(#g_black)" stroke="#151515" stroke-width="0.5"/>
<circle cx="51.8" cy="257.5" r="2.85" fill="url(#g_black)" stroke="#151515" stroke-width="0.5"/>
<circle cx="51.8" cy="255.0" r="2.85" fill="url(#g_black)" stroke="#151515" stroke-width="0.5"/>
<circle cx="51.9" cy="252.5" r="2.85" fill="url(#g_black)" stroke="#151515" stroke-width="0.5"/>
<circle cx="52.1" cy="250.2" r="2.85" fill="url(#g_black)" stroke="#151515" stroke-width="0.5"/>
<circle cx="52.8" cy="248.4" r="2.85" fill="url(#g_black)" stroke="#151515" stroke-width="0.5"/>
<circle cx="55.0" cy="247.4" r="2.85" fill="url(#g_black)" stroke="#151515" stroke-width="0.5"/>
<circle cx="57.3" cy="246.5" r="2.85" fill="url(#g_black)" stroke="#151515" stroke-width="0.5"/>
<circle cx="64.4" cy="243.2" r="2.85" fill="url(#g_black)" stroke="#151515" stroke-width="0.5"/>
<circle cx="85.0" cy="236.8" r="2.85" fill="url(#g_black)" stroke="#151515" stroke-width="0.5"/>
<circle cx="106.2" cy="231.3" r="2.85" fill="url(#g_black)" stroke="#151515" stroke-width="0.5"/>
<circle cx="116.6" cy="229.0" r="2.85" fill="url(#g_black)" stroke="#151515" stroke-width="0.5"/>
<circle cx="126.5" cy="226.8" r="2.85" fill="url(#g_black)" stroke="#151515" stroke-width="0.5"/>
<circle cx="137.0" cy="224.9" r="2.85" fill="url(#g_black)" stroke="#151515" stroke-width="0.5"/>
<circle cx="141.7" cy="224.3" r="2.85" fill="url(#g_black)" stroke="#151515" stroke-width="0.5"/>
<circle cx="147.6" cy="223.2" r="2.85" fill="url(#g_black)" stroke="#151515" stroke-width="0.5"/>
<circle cx="166.5" cy="216.9" r="2.85" fill="url(#g_black)" stroke="#151515" stroke-width="0.5"/>
<circle cx="186.0" cy="210.4" r="2.85" fill="url(#g_black)" stroke="#151515" stroke-width="0.5"/>
<circle cx="207.5" cy="201.8" r="2.85" fill="url(#g_black)" stroke="#151515" stroke-width="0.5"/>
<circle cx="227.9" cy="192.0" r="2.85" fill="url(#g_black)" stroke="#151515" stroke-width="0.5"/>
<circle cx="245.0" cy="181.2" r="2.85" fill="url(#g_black)" stroke="#151515" stroke-width="0.5"/>
<circle cx="247.9" cy="179.6" r="2.85" fill="url(#g_black)" stroke="#151515" stroke-width="0.5"/>
<circle cx="264.5" cy="165.9" r="2.85" fill="url(#g_black)" stroke="#151515" stroke-width="0.5"/>
<circle cx="268.0" cy="163.2" r="2.85" fill="url(#g_black)" stroke="#151515" stroke-width="0.5"/>
<circle cx="286.3" cy="140.9" r="2.85" fill="url(#g_black)" stroke="#151515" stroke-width="0.5"/>
<circle cx="305.6" cy="125.2" r="2.85" fill="url(#g_black)" stroke="#151515" stroke-width="0.5"/>
<circle cx="308.1" cy="121.3" r="2.85" fill="url(#g_black)" stroke="#151515" stroke-width="0.5"/>
<circle cx="325.7" cy="100.5" r="2.85" fill="url(#g_black)" stroke="#151515" stroke-width="0.5"/>
<circle cx="347.2" cy="67.2" r="2.85" fill="url(#g_black)" stroke="#151515" stroke-width="0.5"/>
<circle cx="325.7" cy="80.3" r="2.85" fill="url(#g_black)" stroke="#151515" stroke-width="0.5"/>
<circle cx="307.1" cy="92.5" r="2.85" fill="url(#g_black)" stroke="#151515" stroke-width="0.5"/>
<circle cx="287.9" cy="106.5" r="2.85" fill="url(#g_black)" stroke="#151515" stroke-width="0.5"/>
<circle cx="269.1" cy="133.2" r="2.85" fill="url(#g_black)" stroke="#151515" stroke-width="0.5"/>
<circle cx="266.4" cy="136.8" r="2.85" fill="url(#g_black)" stroke="#151515" stroke-width="0.5"/>
<circle cx="248.0" cy="161.5" r="2.85" fill="url(#g_black)" stroke="#151515" stroke-width="0.5"/>
<circle cx="245.0" cy="164.8" r="2.85" fill="url(#g_black)" stroke="#151515" stroke-width="0.5"/>
<circle cx="230.3" cy="180.4" r="2.85" fill="url(#g_black)" stroke="#151515" stroke-width="0.5"/>
<circle cx="225.4" cy="183.7" r="2.85" fill="url(#g_black)" stroke="#151515" stroke-width="0.5"/>
<circle cx="208.6" cy="195.7" r="2.85" fill="url(#g_black)" stroke="#151515" stroke-width="0.5"/>
<circle cx="204.6" cy="197.3" r="2.85" fill="url(#g_black)" stroke="#151515" stroke-width="0.5"/>
<circle cx="186.0" cy="207.2" r="2.85" fill="url(#g_black)" stroke="#151515" stroke-width="0.5"/>
<circle cx="166.5" cy="213.8" r="2.85" fill="url(#g_black)" stroke="#151515" stroke-width="0.5"/>
<circle cx="147.3" cy="220.3" r="2.85" fill="url(#g_black)" stroke="#151515" stroke-width="0.5"/>
<circle cx="144.9" cy="220.1" r="2.85" fill="url(#g_black)" stroke="#151515" stroke-width="0.5"/>
<circle cx="139.3" cy="220.9" r="2.85" fill="url(#g_black)" stroke="#151515" stroke-width="0.5"/>
<circle cx="134.5" cy="222.3" r="2.85" fill="url(#g_black)" stroke="#151515" stroke-width="0.5"/>
<circle cx="125.6" cy="224.7" r="2.85" fill="url(#g_black)" stroke="#151515" stroke-width="0.5"/>
<circle cx="115.2" cy="227.3" r="2.85" fill="url(#g_black)" stroke="#151515" stroke-width="0.5"/>
<circle cx="106.1" cy="229.8" r="2.85" fill="url(#g_black)" stroke="#151515" stroke-width="0.5"/>
<circle cx="85.6" cy="235.8" r="2.85" fill="url(#g_black)" stroke="#151515" stroke-width="0.5"/>
<circle cx="64.9" cy="242.4" r="2.85" fill="url(#g_black)" stroke="#151515" stroke-width="0.5"/>
<circle cx="57.2" cy="245.6" r="2.85" fill="url(#g_black)" stroke="#151515" stroke-width="0.5"/>
</g>
<rect x="51.5" y="19.0" width="305.0" height="253.4" fill="none" stroke="#151515" stroke-width="1.15"/>
<line x1="57.1" y1="126.8" x2="81.1" y2="126.8" stroke="#2b7174" stroke-width="1.1"/>
<circle cx="69.1" cy="126.8" r="2.60" fill="url(#l_teal)" stroke="#174a4c" stroke-width="0.4"/>
<text x="83.8" y="130.6" font-size="11.2" fill="#2b6f72">MIL-88A</text>
<line x1="57.1" y1="141.0" x2="81.1" y2="141.0" stroke="#e53c48" stroke-width="1.1"/>
<circle cx="69.1" cy="141.0" r="2.60" fill="url(#l_red)" stroke="#cc3440" stroke-width="0.4"/>
<text x="83.8" y="144.8" font-size="11.2" fill="#e23d44">&#946;-CD</text>
<line x1="57.1" y1="155.3" x2="81.1" y2="155.3" stroke="#c8c81c" stroke-width="1.1"/>
<circle cx="69.1" cy="155.3" r="2.60" fill="url(#l_yellow)" stroke="#a8a80e" stroke-width="0.4"/>
<text x="83.8" y="159.1" font-size="11.2" fill="#b8b814">ZVCo</text>
<line x1="57.1" y1="169.5" x2="81.1" y2="169.5" stroke="#78783a" stroke-width="1.1"/>
<circle cx="69.1" cy="169.5" r="2.60" fill="url(#l_olive)" stroke="#50501e" stroke-width="0.4"/>
<text x="83.8" y="173.3" font-size="11.2" fill="#5e5e2e">MIL-88A@&#946;-CD</text>
<line x1="57.1" y1="183.8" x2="81.1" y2="183.8" stroke="#262626" stroke-width="1.1"/>
<circle cx="69.1" cy="183.8" r="2.60" fill="url(#l_black)" stroke="#151515" stroke-width="0.4"/>
<text x="83.8" y="187.6" font-size="11.2" fill="#1e1e1e">ZVCo-MIL-88A@&#946;-CD</text>
<rect x="417.6" y="34.8" width="265.7" height="216.4" fill="none" stroke="#151515" stroke-width="1.15"/>
<line x1="414.4" y1="246.50" x2="417.6" y2="246.50" stroke="#151515" stroke-width="1.05"/>
<text transform="translate(412.5,249.40) scale(1,1.12)" font-size="12" text-anchor="end">0.000</text>
<line x1="414.4" y1="199.50" x2="417.6" y2="199.50" stroke="#151515" stroke-width="1.05"/>
<text transform="translate(412.5,202.40) scale(1,1.12)" font-size="12" text-anchor="end">0.005</text>
<line x1="414.4" y1="152.50" x2="417.6" y2="152.50" stroke="#151515" stroke-width="1.05"/>
<text transform="translate(412.5,155.40) scale(1,1.12)" font-size="12" text-anchor="end">0.010</text>
<line x1="414.4" y1="104.50" x2="417.6" y2="104.50" stroke="#151515" stroke-width="1.05"/>
<text transform="translate(412.5,107.40) scale(1,1.12)" font-size="12" text-anchor="end">0.015</text>
<line x1="414.4" y1="57.50" x2="417.6" y2="57.50" stroke="#151515" stroke-width="1.05"/>
<text transform="translate(412.5,60.40) scale(1,1.12)" font-size="12" text-anchor="end">0.020</text>
<line x1="426.50" y1="251.2" x2="426.50" y2="254.4" stroke="#151515" stroke-width="1.05"/>
<text transform="translate(426.50,265.5) scale(1,1.12)" font-size="12" text-anchor="middle">0</text>
<line x1="472.50" y1="251.2" x2="472.50" y2="254.4" stroke="#151515" stroke-width="1.05"/>
<text transform="translate(472.50,265.5) scale(1,1.12)" font-size="12" text-anchor="middle">50</text>
<line x1="518.50" y1="251.2" x2="518.50" y2="254.4" stroke="#151515" stroke-width="1.05"/>
<text transform="translate(518.50,265.5) scale(1,1.12)" font-size="12" text-anchor="middle">100</text>
<line x1="564.50" y1="251.2" x2="564.50" y2="254.4" stroke="#151515" stroke-width="1.05"/>
<text transform="translate(564.50,265.5) scale(1,1.12)" font-size="12" text-anchor="middle">150</text>
<line x1="610.50" y1="251.2" x2="610.50" y2="254.4" stroke="#151515" stroke-width="1.05"/>
<text transform="translate(610.50,265.5) scale(1,1.12)" font-size="12" text-anchor="middle">200</text>
<line x1="656.50" y1="251.2" x2="656.50" y2="254.4" stroke="#151515" stroke-width="1.05"/>
<text transform="translate(656.50,265.5) scale(1,1.12)" font-size="12" text-anchor="middle">250</text>
<text x="509.3" y="282.2" font-size="13.2">Pore diameter (nm)</text>
<text transform="translate(376.9,148.3) rotate(-90)" font-size="13.3" text-anchor="middle">dV(r) (cm<tspan font-size="9.8" dy="-4.6" dx="0.3">3</tspan><tspan dy="4.6">/nm/g)</tspan></text>
<text x="371.8" y="41.8" font-size="18.5">(b)</text>
<polyline points="428.5,236.0 429.5,222.0 430.4,205.0 432.0,188.8 432.6,184.3 433.9,194.0 434.5,197.5 438.4,210.6 443.8,232.2 458.8,240.6 480.8,240.0 523.3,239.2 576.0,246.2 619.3,245.8 680.2,246.5" fill="none" stroke="#2b7174" stroke-width="1.10" stroke-linejoin="round"/>
<circle cx="430.4" cy="205.0" r="2.30" fill="url(#h_teal)" stroke="#174a4c" stroke-width="0.5"/>
<circle cx="432.0" cy="188.8" r="2.30" fill="url(#h_teal)" stroke="#174a4c" stroke-width="0.5"/>
<circle cx="432.6" cy="184.3" r="2.30" fill="url(#h_teal)" stroke="#174a4c" stroke-width="0.5"/>
<circle cx="433.9" cy="194.0" r="2.30" fill="url(#h_teal)" stroke="#174a4c" stroke-width="0.5"/>
<circle cx="434.5" cy="197.5" r="2.30" fill="url(#h_teal)" stroke="#174a4c" stroke-width="0.5"/>
<circle cx="438.4" cy="210.6" r="2.30" fill="url(#h_teal)" stroke="#174a4c" stroke-width="0.5"/>
<circle cx="443.8" cy="232.2" r="2.30" fill="url(#h_teal)" stroke="#174a4c" stroke-width="0.5"/>
<circle cx="458.8" cy="240.6" r="2.30" fill="url(#h_teal)" stroke="#174a4c" stroke-width="0.5"/>
<circle cx="480.8" cy="240.0" r="2.30" fill="url(#h_teal)" stroke="#174a4c" stroke-width="0.5"/>
<circle cx="523.3" cy="239.2" r="2.30" fill="url(#h_teal)" stroke="#174a4c" stroke-width="0.5"/>
<circle cx="576.0" cy="246.2" r="2.30" fill="url(#h_teal)" stroke="#174a4c" stroke-width="0.5"/>
<circle cx="619.3" cy="245.8" r="2.30" fill="url(#h_teal)" stroke="#174a4c" stroke-width="0.5"/>
<circle cx="680.2" cy="246.5" r="2.30" fill="url(#h_teal)" stroke="#174a4c" stroke-width="0.5"/>
<polyline points="426.8,205.0 426.5,192.0 426.2,175.0 425.7,144.4 427.9,121.8 428.4,110.6 428.4,97.2 427.9,87.5 430.0,89.8 430.3,68.0 431.3,60.9 433.4,68.5 434.0,90.5 435.6,101.8 438.3,142.5 443.8,202.5 459.7,235.6 480.5,242.5 523.0,245.0 576.0,246.1 619.3,245.5 680.2,246.2" fill="none" stroke="#e53c48" stroke-width="1.10" stroke-linejoin="round"/>
<circle cx="425.7" cy="144.4" r="2.30" fill="url(#h_red)" stroke="#cc3440" stroke-width="0.5"/>
<circle cx="427.9" cy="121.8" r="2.30" fill="url(#h_red)" stroke="#cc3440" stroke-width="0.5"/>
<circle cx="428.4" cy="110.6" r="2.30" fill="url(#h_red)" stroke="#cc3440" stroke-width="0.5"/>
<circle cx="428.4" cy="97.2" r="2.30" fill="url(#h_red)" stroke="#cc3440" stroke-width="0.5"/>
<circle cx="427.9" cy="87.5" r="2.30" fill="url(#h_red)" stroke="#cc3440" stroke-width="0.5"/>
<circle cx="430.0" cy="89.8" r="2.30" fill="url(#h_red)" stroke="#cc3440" stroke-width="0.5"/>
<circle cx="430.3" cy="68.0" r="2.30" fill="url(#h_red)" stroke="#cc3440" stroke-width="0.5"/>
<circle cx="431.3" cy="60.9" r="2.30" fill="url(#h_red)" stroke="#cc3440" stroke-width="0.5"/>
<circle cx="433.4" cy="68.5" r="2.30" fill="url(#h_red)" stroke="#cc3440" stroke-width="0.5"/>
<circle cx="434.0" cy="90.5" r="2.30" fill="url(#h_red)" stroke="#cc3440" stroke-width="0.5"/>
<circle cx="435.6" cy="101.8" r="2.30" fill="url(#h_red)" stroke="#cc3440" stroke-width="0.5"/>
<circle cx="438.3" cy="142.5" r="2.30" fill="url(#h_red)" stroke="#cc3440" stroke-width="0.5"/>
<circle cx="443.8" cy="202.5" r="2.30" fill="url(#h_red)" stroke="#cc3440" stroke-width="0.5"/>
<circle cx="459.7" cy="235.6" r="2.30" fill="url(#h_red)" stroke="#cc3440" stroke-width="0.5"/>
<circle cx="480.5" cy="242.5" r="2.30" fill="url(#h_red)" stroke="#cc3440" stroke-width="0.5"/>
<circle cx="523.0" cy="245.0" r="2.30" fill="url(#h_red)" stroke="#cc3440" stroke-width="0.5"/>
<circle cx="576.0" cy="246.1" r="2.30" fill="url(#h_red)" stroke="#cc3440" stroke-width="0.5"/>
<circle cx="619.3" cy="245.5" r="2.30" fill="url(#h_red)" stroke="#cc3440" stroke-width="0.5"/>
<circle cx="680.2" cy="246.2" r="2.30" fill="url(#h_red)" stroke="#cc3440" stroke-width="0.5"/>
<polyline points="428.1,244.0 427.0,240.7 427.0,238.4 426.8,233.8 432.6,220.4 433.7,223.8 434.9,227.2 436.4,229.5 438.2,231.7 442.7,237.3 459.3,244.7 481.0,246.3 523.0,246.6 576.0,247.0 619.3,246.6 680.2,247.0" fill="none" stroke="#c8c81c" stroke-width="1.10" stroke-linejoin="round"/>
<circle cx="428.1" cy="244.0" r="2.30" fill="url(#h_yellow)" stroke="#a8a80e" stroke-width="0.5"/>
<circle cx="427.0" cy="240.7" r="2.30" fill="url(#h_yellow)" stroke="#a8a80e" stroke-width="0.5"/>
<circle cx="427.0" cy="238.4" r="2.30" fill="url(#h_yellow)" stroke="#a8a80e" stroke-width="0.5"/>
<circle cx="426.8" cy="233.8" r="2.30" fill="url(#h_yellow)" stroke="#a8a80e" stroke-width="0.5"/>
<circle cx="432.6" cy="220.4" r="2.30" fill="url(#h_yellow)" stroke="#a8a80e" stroke-width="0.5"/>
<circle cx="433.7" cy="223.8" r="2.30" fill="url(#h_yellow)" stroke="#a8a80e" stroke-width="0.5"/>
<circle cx="434.9" cy="227.2" r="2.30" fill="url(#h_yellow)" stroke="#a8a80e" stroke-width="0.5"/>
<circle cx="436.4" cy="229.5" r="2.30" fill="url(#h_yellow)" stroke="#a8a80e" stroke-width="0.5"/>
<circle cx="438.2" cy="231.7" r="2.30" fill="url(#h_yellow)" stroke="#a8a80e" stroke-width="0.5"/>
<circle cx="442.7" cy="237.3" r="2.30" fill="url(#h_yellow)" stroke="#a8a80e" stroke-width="0.5"/>
<circle cx="459.3" cy="244.7" r="2.30" fill="url(#h_yellow)" stroke="#a8a80e" stroke-width="0.5"/>
<circle cx="481.0" cy="246.3" r="2.30" fill="url(#h_yellow)" stroke="#a8a80e" stroke-width="0.5"/>
<circle cx="523.0" cy="246.6" r="2.30" fill="url(#h_yellow)" stroke="#a8a80e" stroke-width="0.5"/>
<circle cx="576.0" cy="247.0" r="2.30" fill="url(#h_yellow)" stroke="#a8a80e" stroke-width="0.5"/>
<circle cx="619.3" cy="246.6" r="2.30" fill="url(#h_yellow)" stroke="#a8a80e" stroke-width="0.5"/>
<circle cx="680.2" cy="247.0" r="2.30" fill="url(#h_yellow)" stroke="#a8a80e" stroke-width="0.5"/>
<polyline points="427.0,232.0 427.5,206.8 428.2,190.0 428.8,170.0 428.8,155.9 428.4,145.6 428.3,139.2 430.5,126.5 431.6,122.2 433.5,127.8 433.4,143.6 436.0,150.3 438.4,176.0 443.8,217.1 458.8,238.0 480.5,243.5 523.0,245.3 576.0,246.2 619.3,245.6 680.2,246.3" fill="none" stroke="#78783a" stroke-width="1.10" stroke-linejoin="round"/>
<circle cx="427.5" cy="206.8" r="2.30" fill="url(#h_olive)" stroke="#50501e" stroke-width="0.5"/>
<circle cx="428.2" cy="190.0" r="2.30" fill="url(#h_olive)" stroke="#50501e" stroke-width="0.5"/>
<circle cx="428.8" cy="170.0" r="2.30" fill="url(#h_olive)" stroke="#50501e" stroke-width="0.5"/>
<circle cx="428.8" cy="155.9" r="2.30" fill="url(#h_olive)" stroke="#50501e" stroke-width="0.5"/>
<circle cx="428.4" cy="145.6" r="2.30" fill="url(#h_olive)" stroke="#50501e" stroke-width="0.5"/>
<circle cx="428.3" cy="139.2" r="2.30" fill="url(#h_olive)" stroke="#50501e" stroke-width="0.5"/>
<circle cx="430.5" cy="126.5" r="2.30" fill="url(#h_olive)" stroke="#50501e" stroke-width="0.5"/>
<circle cx="431.6" cy="122.2" r="2.30" fill="url(#h_olive)" stroke="#50501e" stroke-width="0.5"/>
<circle cx="433.5" cy="127.8" r="2.30" fill="url(#h_olive)" stroke="#50501e" stroke-width="0.5"/>
<circle cx="433.4" cy="143.6" r="2.30" fill="url(#h_olive)" stroke="#50501e" stroke-width="0.5"/>
<circle cx="436.0" cy="150.3" r="2.30" fill="url(#h_olive)" stroke="#50501e" stroke-width="0.5"/>
<circle cx="438.4" cy="176.0" r="2.30" fill="url(#h_olive)" stroke="#50501e" stroke-width="0.5"/>
<circle cx="443.8" cy="217.1" r="2.30" fill="url(#h_olive)" stroke="#50501e" stroke-width="0.5"/>
<circle cx="458.8" cy="238.0" r="2.30" fill="url(#h_olive)" stroke="#50501e" stroke-width="0.5"/>
<circle cx="480.5" cy="243.5" r="2.30" fill="url(#h_olive)" stroke="#50501e" stroke-width="0.5"/>
<circle cx="523.0" cy="245.3" r="2.30" fill="url(#h_olive)" stroke="#50501e" stroke-width="0.5"/>
<circle cx="576.0" cy="246.2" r="2.30" fill="url(#h_olive)" stroke="#50501e" stroke-width="0.5"/>
<circle cx="619.3" cy="245.6" r="2.30" fill="url(#h_olive)" stroke="#50501e" stroke-width="0.5"/>
<circle cx="680.2" cy="246.3" r="2.30" fill="url(#h_olive)" stroke="#50501e" stroke-width="0.5"/>
<polyline points="428.1,237.0 428.1,232.8 428.1,225.0 428.1,220.4 427.4,216.0 427.0,207.0 427.5,200.4 428.8,190.1 428.8,185.6 428.1,179.2 428.3,173.8 430.8,162.3 432.1,167.4 433.3,177.3 434.5,181.1 437.7,199.7 443.8,226.5 458.9,241.5 480.8,244.6 523.3,245.8 576.0,246.1 619.3,245.4 680.2,246.3" fill="none" stroke="#262626" stroke-width="1.10" stroke-linejoin="round"/>
<circle cx="428.1" cy="237.0" r="2.30" fill="url(#h_black)" stroke="#151515" stroke-width="0.5"/>
<circle cx="428.1" cy="232.8" r="2.30" fill="url(#h_black)" stroke="#151515" stroke-width="0.5"/>
<circle cx="428.1" cy="225.0" r="2.30" fill="url(#h_black)" stroke="#151515" stroke-width="0.5"/>
<circle cx="428.1" cy="220.4" r="2.30" fill="url(#h_black)" stroke="#151515" stroke-width="0.5"/>
<circle cx="427.4" cy="216.0" r="2.30" fill="url(#h_black)" stroke="#151515" stroke-width="0.5"/>
<circle cx="427.0" cy="207.0" r="2.30" fill="url(#h_black)" stroke="#151515" stroke-width="0.5"/>
<circle cx="427.5" cy="200.4" r="2.30" fill="url(#h_black)" stroke="#151515" stroke-width="0.5"/>
<circle cx="428.8" cy="190.1" r="2.30" fill="url(#h_black)" stroke="#151515" stroke-width="0.5"/>
<circle cx="428.8" cy="185.6" r="2.30" fill="url(#h_black)" stroke="#151515" stroke-width="0.5"/>
<circle cx="428.1" cy="179.2" r="2.30" fill="url(#h_black)" stroke="#151515" stroke-width="0.5"/>
<circle cx="428.3" cy="173.8" r="2.30" fill="url(#h_black)" stroke="#151515" stroke-width="0.5"/>
<circle cx="430.8" cy="162.3" r="2.30" fill="url(#h_black)" stroke="#151515" stroke-width="0.5"/>
<circle cx="432.1" cy="167.4" r="2.30" fill="url(#h_black)" stroke="#151515" stroke-width="0.5"/>
<circle cx="433.3" cy="177.3" r="2.30" fill="url(#h_black)" stroke="#151515" stroke-width="0.5"/>
<circle cx="434.5" cy="181.1" r="2.30" fill="url(#h_black)" stroke="#151515" stroke-width="0.5"/>
<circle cx="437.7" cy="199.7" r="2.30" fill="url(#h_black)" stroke="#151515" stroke-width="0.5"/>
<circle cx="443.8" cy="226.5" r="2.30" fill="url(#h_black)" stroke="#151515" stroke-width="0.5"/>
<circle cx="458.9" cy="241.5" r="2.30" fill="url(#h_black)" stroke="#151515" stroke-width="0.5"/>
<circle cx="480.8" cy="244.6" r="2.30" fill="url(#h_black)" stroke="#151515" stroke-width="0.5"/>
<circle cx="523.3" cy="245.8" r="2.30" fill="url(#h_black)" stroke="#151515" stroke-width="0.5"/>
<circle cx="576.0" cy="246.1" r="2.30" fill="url(#h_black)" stroke="#151515" stroke-width="0.5"/>
<circle cx="619.3" cy="245.4" r="2.30" fill="url(#h_black)" stroke="#151515" stroke-width="0.5"/>
<circle cx="680.2" cy="246.3" r="2.30" fill="url(#h_black)" stroke="#151515" stroke-width="0.5"/>
<line x1="558.6" y1="186.9" x2="578.5" y2="186.9" stroke="#2b7174" stroke-width="1.1"/>
<circle cx="568.6" cy="186.9" r="2.10" fill="url(#l_teal)" stroke="#174a4c" stroke-width="0.4"/>
<text x="581.3" y="190.2" font-size="9.8" fill="#2b6f72">MIL-88A</text>
<line x1="558.6" y1="199.2" x2="578.5" y2="199.2" stroke="#e53c48" stroke-width="1.1"/>
<circle cx="568.6" cy="199.2" r="2.10" fill="url(#l_red)" stroke="#cc3440" stroke-width="0.4"/>
<text x="581.3" y="202.5" font-size="9.8" fill="#e23d44">&#946;-CD</text>
<line x1="558.6" y1="211.6" x2="578.5" y2="211.6" stroke="#c8c81c" stroke-width="1.1"/>
<circle cx="568.6" cy="211.6" r="2.10" fill="url(#l_yellow)" stroke="#a8a80e" stroke-width="0.4"/>
<text x="581.3" y="214.9" font-size="9.8" fill="#b8b814">ZVCo</text>
<line x1="558.6" y1="223.9" x2="578.5" y2="223.9" stroke="#78783a" stroke-width="1.1"/>
<circle cx="568.6" cy="223.9" r="2.10" fill="url(#l_olive)" stroke="#50501e" stroke-width="0.4"/>
<text x="581.3" y="227.2" font-size="9.8" fill="#5e5e2e">MIL-88A@&#946;-CD</text>
<line x1="558.6" y1="236.3" x2="578.5" y2="236.3" stroke="#262626" stroke-width="1.1"/>
<circle cx="568.6" cy="236.3" r="2.10" fill="url(#l_black)" stroke="#151515" stroke-width="0.4"/>
<text x="581.3" y="239.6" font-size="9.8" fill="#1e1e1e">ZVCo-MIL-88A@&#946;-CD</text>
</svg>
</body></html>
